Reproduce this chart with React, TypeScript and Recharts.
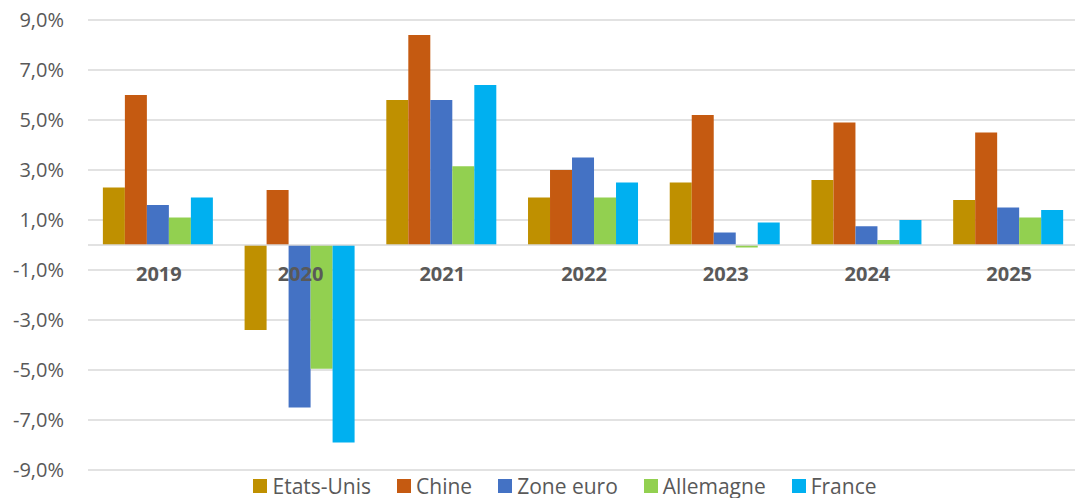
import React from "react";
import { BarChart, Bar, XAxis, YAxis, CartesianGrid, Legend, ReferenceLine } from "recharts";

const years = ["2019", "2020", "2021", "2022", "2023", "2024", "2025"];
const etatsUnis = [2.3, -3.4, 5.8, 1.9, 2.5, 2.6, 1.8];
const chine = [6.0, 2.2, 8.4, 3.0, 5.2, 4.9, 4.5];
const zoneEuro = [1.6, -6.5, 5.8, 3.5, 0.5, 0.75, 1.5];
const allemagne = [1.1, -4.95, 3.15, 1.9, -0.1, 0.2, 1.1];
const france = [1.9, -7.9, 6.4, 2.5, 0.9, 1.0, 1.4];
const yTicks = [-9, -7, -5, -3, -1, 1, 3, 5, 7, 9];

const series = [
  { key: "us", name: "Etats-Unis", color: "#BF9000", values: etatsUnis },
  { key: "cn", name: "Chine", color: "#C55A11", values: chine },
  { key: "ez", name: "Zone euro", color: "#4472C4", values: zoneEuro },
  { key: "de", name: "Allemagne", color: "#92D050", values: allemagne },
  { key: "fr", name: "France", color: "#00B0F0", values: france },
];

const data = years.map((y, i) => {
  const row: any = { year: y };
  series.forEach((s) => (row[s.key] = s.values[i]));
  return row;
});

const FONT = "'Open Sans', sans-serif";
const W = 1083;
const H = 498;
const M = { top: 20, right: 3, bottom: 3, left: 8 };
const X_H = 1;
const LEGEND_H = 24;
const PLOT_H = H - M.top - M.bottom - X_H - LEGEND_H;

const YearTick = (props: any) => {
  const { x, y, payload } = props;
  const zeroY = y - PLOT_H / 2;
  return (
    <text
      x={x}
      y={zeroY + 28}
      textAnchor="middle"
      fill="#595959"
      fontFamily={FONT}
      fontSize={20}
      fontWeight="bold"
    >
      {payload.value}
    </text>
  );
};

const LegendContent = () => (
  <div
    style={{
      display: "flex",
      justifyContent: "center",
      alignItems: "center",
      height: LEGEND_H,
      fontFamily: FONT,
      fontSize: 21,
      color: "#595959",
      paddingLeft: 42,
      whiteSpace: "nowrap",
    }}
  >
    {series.map((s, i) => (
      <div
        key={s.key}
        style={{ display: "flex", alignItems: "center", marginRight: i < series.length - 1 ? 26 : 0 }}
      >
        <span style={{ width: 14, height: 14, background: s.color, display: "inline-block", marginRight: 5 }} />
        <span>{s.name}</span>
      </div>
    ))}
  </div>
);

const fmt = (v: number) => v.toFixed(1).replace(".", ",") + "%";

export default function App() {
  return (
    <div style={{ margin: "-8px 0 0 -8px", width: W, height: H }}>
      <BarChart
        width={W}
        height={H}
        data={data}
        margin={M}
        barGap={0}
        barCategoryGap="10.5%"
        style={{ fontFamily: FONT }}
      >
        <CartesianGrid vertical={false} stroke="#d9d9d9" strokeWidth={1.5} />
        <XAxis
          dataKey="year"
          axisLine={false}
          tickLine={false}
          tick={<YearTick />}
          height={X_H}
          interval={0}
        />
        <YAxis
          domain={[-9, 9]}
          ticks={yTicks}
          tickFormatter={fmt}
          axisLine={false}
          tickLine={false}
          width={80}
          tickMargin={18}
          tick={{ fill: "#595959", fontSize: 20, fontFamily: FONT }}
          interval={0}
        />
        <ReferenceLine y={0} stroke="#d9d9d9" strokeWidth={1.5} />
        <Legend
          verticalAlign="bottom"
          align="center"
          height={LEGEND_H}
          content={<LegendContent />}
          wrapperStyle={{ bottom: 0 }}
        />
        {series.map((s) => (
          <Bar key={s.key} dataKey={s.key} name={s.name} fill={s.color} isAnimationActive={false} />
        ))}
      </BarChart>
    </div>
  );
}
